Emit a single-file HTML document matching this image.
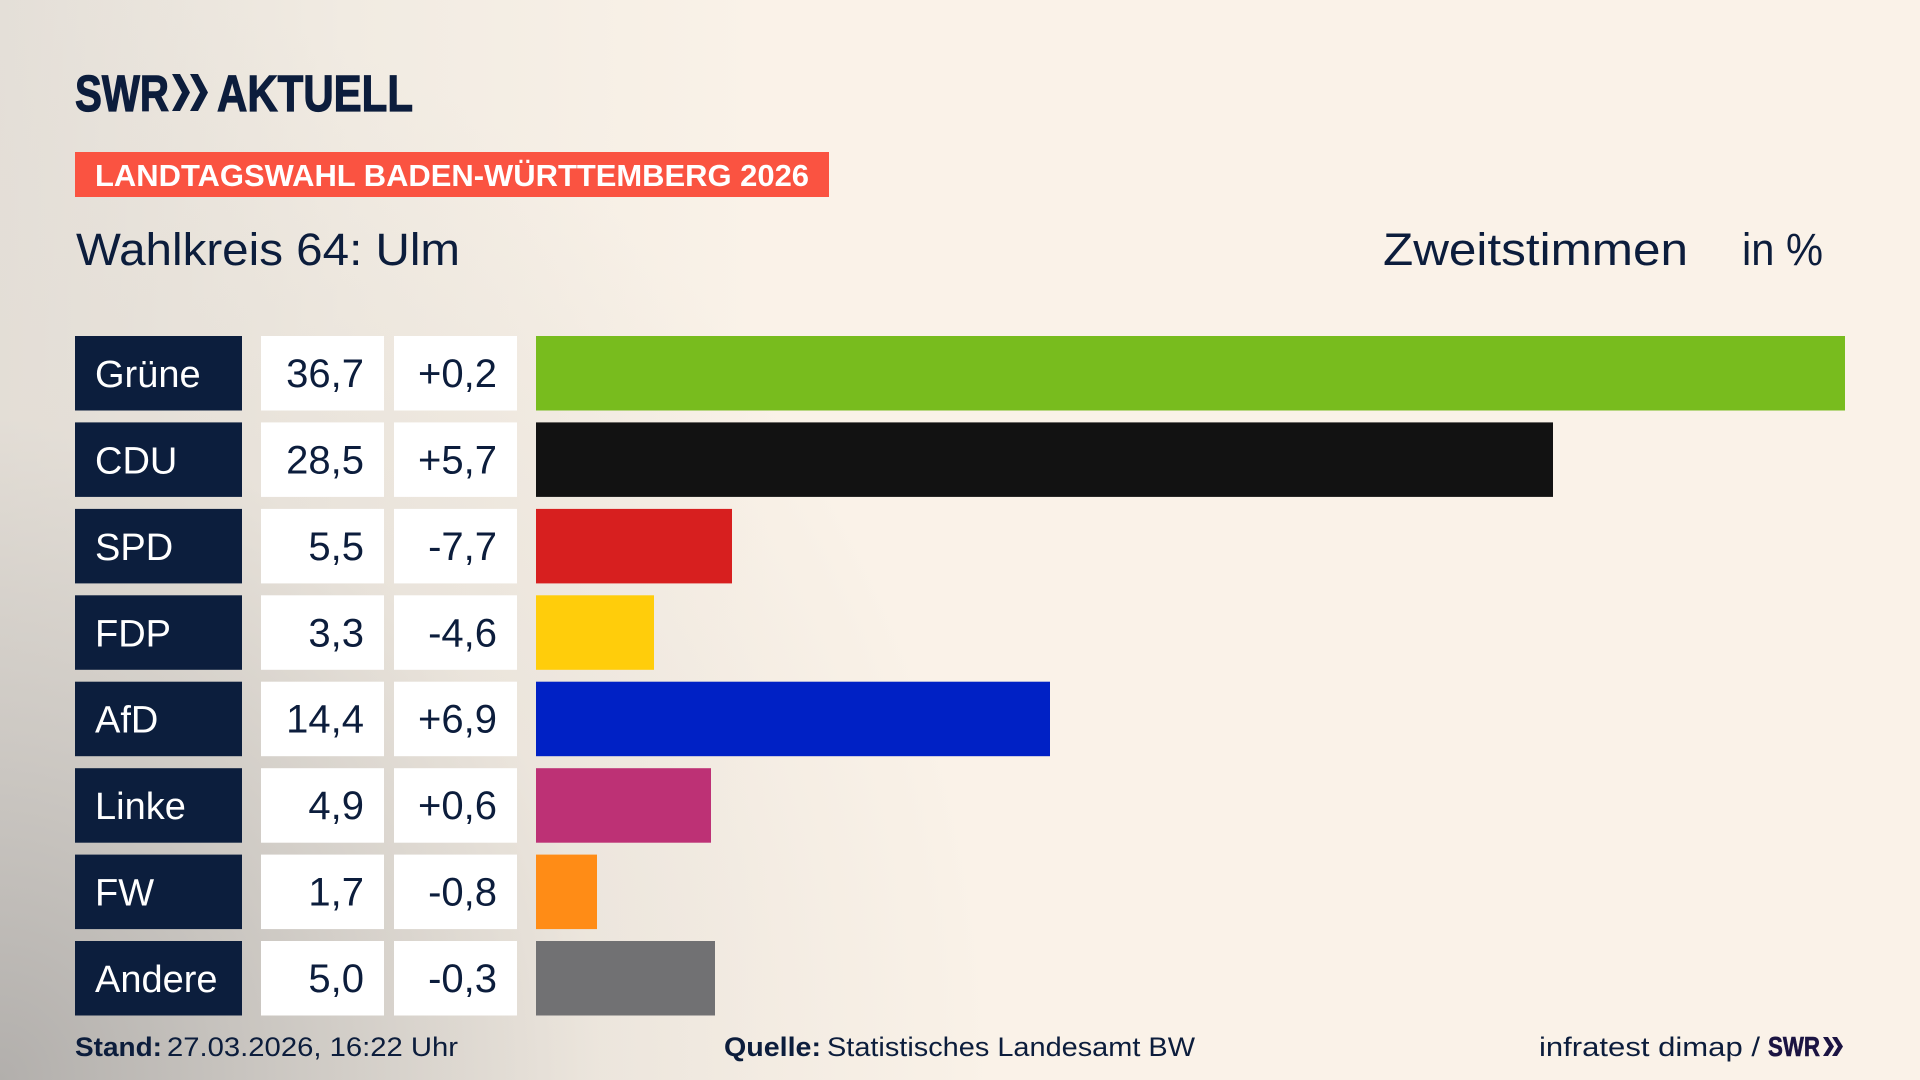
<!DOCTYPE html>
<html>
<head>
<meta charset="utf-8">
<style>
html,body{margin:0;padding:0;width:1920px;height:1080px;overflow:hidden;}
body{
  background:
    radial-gradient(ellipse 1000px 1100px at 0% 100%, rgba(178,175,172,1) 0%, rgba(200,196,191,0.85) 30%, rgba(226,220,212,0.5) 60%, rgba(250,242,232,0) 100%),
    linear-gradient(to right, #e4dfd8 0%, #f1ebe2 18%, #faf2e8 40%, #faf2e8 100%);
}
svg{position:absolute;left:0;top:0;}
text{font-family:"Liberation Sans", sans-serif;}
</style>
</head>
<body>
<svg width="1920" height="1080" viewBox="0 0 1920 1080" xmlns="http://www.w3.org/2000/svg">
  <!-- Logo -->
  <text x="75" y="111" font-size="51" font-weight="bold" fill="#0c1d3c" stroke="#0c1d3c" stroke-width="1.2" textLength="94" lengthAdjust="spacingAndGlyphs">SWR</text>
  <polygon points="172,74 180,74 190,92.5 180,111 172,111 182,92.5" fill="#0c1d3c"/>
  <polygon points="190,74 198,74 208,92.5 198,111 190,111 200,92.5" fill="#0c1d3c"/>
  <text x="217" y="111" font-size="51" font-weight="bold" fill="#0c1d3c" stroke="#0c1d3c" stroke-width="1.2" textLength="196" lengthAdjust="spacingAndGlyphs">AKTUELL</text>

  <!-- Banner -->
  <rect x="75" y="152" width="754" height="45" fill="#fa5341"/>
  <text x="95" y="186" font-size="31" font-weight="bold" fill="#ffffff" textLength="714" lengthAdjust="spacingAndGlyphs">LANDTAGSWAHL BADEN-WÜRTTEMBERG 2026</text>

  <!-- Headings -->
  <text x="76" y="265" font-size="45" fill="#0c1d3c" textLength="384" lengthAdjust="spacingAndGlyphs">Wahlkreis 64: Ulm</text>
  <text x="1383" y="265" font-size="45" fill="#0c1d3c" textLength="305" lengthAdjust="spacingAndGlyphs">Zweitstimmen</text>
  <text x="1742" y="265" font-size="45" fill="#0c1d3c" textLength="81" lengthAdjust="spacingAndGlyphs">in %</text>

  <!-- Rows -->
  <g>
    <rect x="75" y="336" width="167" height="74.5" fill="#0c1e3d"/>
    <rect x="261" y="336" width="123" height="74.5" fill="#ffffff"/>
    <rect x="394" y="336" width="123" height="74.5" fill="#ffffff"/>
    <rect x="536" y="336" width="1309" height="74.5" fill="#78bc1e"/>
    <text x="95" y="387" font-size="38" fill="#ffffff">Grüne</text>
    <text x="364" y="387" font-size="40" fill="#0c1d3c" text-anchor="end">36,7</text>
    <text x="497" y="387" font-size="40" fill="#0c1d3c" text-anchor="end">+0,2</text>

    <rect x="75" y="422.4" width="167" height="74.5" fill="#0c1e3d"/>
    <rect x="261" y="422.4" width="123" height="74.5" fill="#ffffff"/>
    <rect x="394" y="422.4" width="123" height="74.5" fill="#ffffff"/>
    <rect x="536" y="422.4" width="1017" height="74.5" fill="#121212"/>
    <text x="95" y="473.4" font-size="38" fill="#ffffff">CDU</text>
    <text x="364" y="473.4" font-size="40" fill="#0c1d3c" text-anchor="end">28,5</text>
    <text x="497" y="473.4" font-size="40" fill="#0c1d3c" text-anchor="end">+5,7</text>

    <rect x="75" y="508.9" width="167" height="74.5" fill="#0c1e3d"/>
    <rect x="261" y="508.9" width="123" height="74.5" fill="#ffffff"/>
    <rect x="394" y="508.9" width="123" height="74.5" fill="#ffffff"/>
    <rect x="536" y="508.9" width="196" height="74.5" fill="#d71f1f"/>
    <text x="95" y="559.9" font-size="38" fill="#ffffff">SPD</text>
    <text x="364" y="559.9" font-size="40" fill="#0c1d3c" text-anchor="end">5,5</text>
    <text x="497" y="559.9" font-size="40" fill="#0c1d3c" text-anchor="end">-7,7</text>

    <rect x="75" y="595.3" width="167" height="74.5" fill="#0c1e3d"/>
    <rect x="261" y="595.3" width="123" height="74.5" fill="#ffffff"/>
    <rect x="394" y="595.3" width="123" height="74.5" fill="#ffffff"/>
    <rect x="536" y="595.3" width="118" height="74.5" fill="#ffcd0b"/>
    <text x="95" y="646.3" font-size="38" fill="#ffffff">FDP</text>
    <text x="364" y="646.3" font-size="40" fill="#0c1d3c" text-anchor="end">3,3</text>
    <text x="497" y="646.3" font-size="40" fill="#0c1d3c" text-anchor="end">-4,6</text>

    <rect x="75" y="681.7" width="167" height="74.5" fill="#0c1e3d"/>
    <rect x="261" y="681.7" width="123" height="74.5" fill="#ffffff"/>
    <rect x="394" y="681.7" width="123" height="74.5" fill="#ffffff"/>
    <rect x="536" y="681.7" width="514" height="74.5" fill="#0021c5"/>
    <text x="95" y="732.7" font-size="38" fill="#ffffff">AfD</text>
    <text x="364" y="732.7" font-size="40" fill="#0c1d3c" text-anchor="end">14,4</text>
    <text x="497" y="732.7" font-size="40" fill="#0c1d3c" text-anchor="end">+6,9</text>

    <rect x="75" y="768.2" width="167" height="74.5" fill="#0c1e3d"/>
    <rect x="261" y="768.2" width="123" height="74.5" fill="#ffffff"/>
    <rect x="394" y="768.2" width="123" height="74.5" fill="#ffffff"/>
    <rect x="536" y="768.2" width="175" height="74.5" fill="#bd3175"/>
    <text x="95" y="819.2" font-size="38" fill="#ffffff">Linke</text>
    <text x="364" y="819.2" font-size="40" fill="#0c1d3c" text-anchor="end">4,9</text>
    <text x="497" y="819.2" font-size="40" fill="#0c1d3c" text-anchor="end">+0,6</text>

    <rect x="75" y="854.6" width="167" height="74.5" fill="#0c1e3d"/>
    <rect x="261" y="854.6" width="123" height="74.5" fill="#ffffff"/>
    <rect x="394" y="854.6" width="123" height="74.5" fill="#ffffff"/>
    <rect x="536" y="854.6" width="61" height="74.5" fill="#ff8c16"/>
    <text x="95" y="905.6" font-size="38" fill="#ffffff">FW</text>
    <text x="364" y="905.6" font-size="40" fill="#0c1d3c" text-anchor="end">1,7</text>
    <text x="497" y="905.6" font-size="40" fill="#0c1d3c" text-anchor="end">-0,8</text>

    <rect x="75" y="941" width="167" height="74.5" fill="#0c1e3d"/>
    <rect x="261" y="941" width="123" height="74.5" fill="#ffffff"/>
    <rect x="394" y="941" width="123" height="74.5" fill="#ffffff"/>
    <rect x="536" y="941" width="179" height="74.5" fill="#717173"/>
    <text x="95" y="992" font-size="38" fill="#ffffff">Andere</text>
    <text x="364" y="992" font-size="40" fill="#0c1d3c" text-anchor="end">5,0</text>
    <text x="497" y="992" font-size="40" fill="#0c1d3c" text-anchor="end">-0,3</text>
  </g>

  <!-- Footer -->
  <text x="75" y="1056" font-size="27" font-weight="bold" fill="#0c1d3c" textLength="87" lengthAdjust="spacingAndGlyphs">Stand:</text>
  <text x="167" y="1056" font-size="27" fill="#0c1d3c" textLength="291" lengthAdjust="spacingAndGlyphs">27.03.2026, 16:22 Uhr</text>

  <text x="724" y="1056" font-size="27" font-weight="bold" fill="#0c1d3c" textLength="97" lengthAdjust="spacingAndGlyphs">Quelle:</text>
  <text x="827" y="1056" font-size="27" fill="#0c1d3c" textLength="368" lengthAdjust="spacingAndGlyphs">Statistisches Landesamt BW</text>

  <text x="1539" y="1056" font-size="27" fill="#0c1d3c" textLength="221" lengthAdjust="spacingAndGlyphs">infratest dimap /</text>
  <text x="1768" y="1056" font-size="28" font-weight="bold" fill="#1b1442" stroke="#1b1442" stroke-width="0.6" textLength="52" lengthAdjust="spacingAndGlyphs">SWR</text>
  <polygon points="1823,1037 1828,1037 1834,1046.5 1828,1056 1823,1056 1829,1046.5" fill="#1b1442"/>
  <polygon points="1832,1037 1837,1037 1843,1046.5 1837,1056 1832,1056 1838,1046.5" fill="#1b1442"/>
</svg>
</body>
</html>
